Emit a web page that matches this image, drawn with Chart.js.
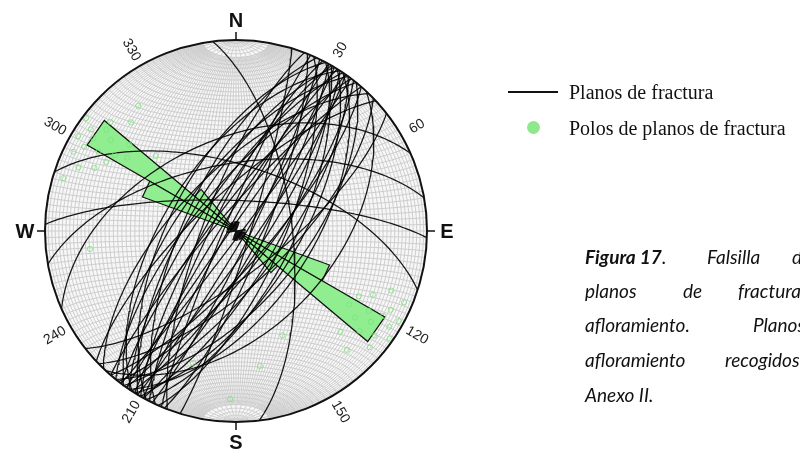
<!DOCTYPE html>
<html>
<head>
<meta charset="utf-8">
<script src="https://cdn.jsdelivr.net/npm/chart.js@4.4.1/dist/chart.umd.min.js"></script>
<style>
  html, body { margin: 0; padding: 0; background: #fff; width: 800px; height: 455px; overflow: hidden; }
  #wrap { position: absolute; left: 0; top: 0; width: 800px; height: 455px; }
  canvas { position: absolute; left: 0; top: 0; }
  .lg { position: absolute; font-family: "Liberation Serif", "Times New Roman", serif; font-size: 20px; color: #111; white-space: nowrap; line-height: 1; }
  .lg-line { position: absolute; height: 2px; background: #111; }
  .lg-dot { position: absolute; border-radius: 50%; background: #8fe88f; }
  .cap { position: absolute; font-family: Lato, "Open Sans", sans-serif; font-style: italic; font-size: 19px; color: #111; white-space: nowrap; line-height: 1; }
  .cap b { font-weight: 700; }
</style>
</head>
<body>
<div id="wrap">
  <canvas id="net" width="800" height="455"></canvas>

  <div class="lg-line" style="left:508px; top:91px; width:50px;"></div>
  <div class="lg" style="left:569px; top:82px;">Planos de fractura</div>
  <div class="lg-dot" style="left:527px; top:121px; width:13px; height:13px;"></div>
  <div class="lg" style="left:569px; top:118px;">Polos de planos de fractura</div>

  <div class="cap" style="left:585px; top:247px;"><b>Figura 17</b>.</div>
  <div class="cap" style="left:707px; top:247px;">Falsilla</div>
  <div class="cap" style="left:792px; top:247px;">de</div>
  <div class="cap" style="left:585px; top:281px;">planos</div>
  <div class="cap" style="left:683px; top:281px;">de</div>
  <div class="cap" style="left:738px; top:281px;">fractura</div>
  <div class="cap" style="left:585px; top:315px;">afloramiento.</div>
  <div class="cap" style="left:753px; top:315px;">Planos</div>
  <div class="cap" style="left:585px; top:350px;">afloramiento</div>
  <div class="cap" style="left:725px; top:350px;">recogidos</div>
  <div class="cap" style="left:585px; top:385px;">Anexo II.</div>
</div>

<script>
// Fracture planes measured in the outcrop: dip direction and dip, in degrees
const dipDirections = [
  112, 114, 116, 118, 119, 291, 293, 295, 297, 298, 299,
  120, 121, 122, 123, 124, 125, 126, 127, 128, 129,
  300, 301, 302, 303, 304, 305, 306, 307, 309,
  131, 133, 136, 311, 314, 317,
  107, 142, 83, 18, 2, 336, 350
];
const dips = [
  78, 70, 84, 66, 80, 76, 85, 68, 80, 62, 87,
  72, 86, 64, 78, 58, 82, 70, 88, 75, 61,
  78, 70, 84, 60, 74, 88, 66, 80, 72,
  76, 48, 68, 82, 65, 74,
  84, 72, 66, 62, 77, 50, 61
];

// Rose diagram: 10° sectors (start azimuth) and number of planes per sector
const roseSectors = [0, 10, 20, 30, 40, 50, 60, 70, 80, 90, 100, 110, 120, 130, 140, 150, 160, 170,
                     180, 190, 200, 210, 220, 230, 240, 250, 260, 270, 280, 290, 300, 310, 320, 330, 340, 350];
const roseCounts  = [1, 1, 0, 0, 0, 0, 0, 0, 1, 0, 1, 11, 19, 6, 1, 1, 0, 1,
                     1, 1, 0, 0, 0, 0, 0, 0, 1, 0, 1, 11, 19, 6, 1, 1, 0, 1];

// Compass labels and azimuth ticks around the primitive circle
const cardinalLabels = ['N', 'E', 'S', 'W'];
const cardinalAzimuths = [0, 90, 180, 270];
const azimuthLabels = [30, 60, 120, 150, 210, 240, 300, 330];

const DEG = Math.PI / 180;
const ROSE_MAX_RADIUS = 0.9;

// Lambert equal-area (Schmidt) projection of a lower-hemisphere unit vector [east, north, down]
function project(v) {
  const k = 1 / Math.sqrt(1 + v[2]);
  return { x: v[0] * k, y: v[1] * k };
}

// Cyclographic trace of a plane
function greatCircle(dipDir, dip) {
  const a = dipDir * DEG, d = dip * DEG;
  const s = [Math.sin(a - Math.PI / 2), Math.cos(a - Math.PI / 2), 0];
  const dv = [Math.sin(a) * Math.cos(d), Math.cos(a) * Math.cos(d), Math.sin(d)];
  const pts = [];
  for (let t = 0; t <= 180; t += 2) {
    const c = Math.cos(t * DEG), sn = Math.sin(t * DEG);
    pts.push(project([s[0] * c + dv[0] * sn, s[1] * c + dv[1] * sn, s[2] * c + dv[2] * sn]));
  }
  return pts;
}

// Pole (normal) of a plane
function poleOf(dipDir, dip) {
  const a = (dipDir + 180) * DEG, d = dip * DEG;
  return project([Math.sin(a) * Math.sin(d), Math.cos(a) * Math.sin(d), Math.cos(d)]);
}

// Closed wedge of one rose sector
function roseWedge(start, count, maxCount) {
  const r = count / maxCount * ROSE_MAX_RADIUS;
  const a1 = start * DEG, a2 = (start + 10) * DEG;
  return [
    { x: 0, y: 0 },
    { x: r * Math.sin(a1), y: r * Math.cos(a1) },
    { x: r * Math.sin(a2), y: r * Math.cos(a2) },
    { x: 0, y: 0 }
  ];
}

const maxCount = Math.max(...roseCounts);
const datasets = [];

// Poles (drawn on top)
datasets.push({
  label: 'Polos de planos de fractura',
  data: dipDirections.map((dd, i) => poleOf(dd, dips[i])),
  showLine: false,
  pointStyle: 'circle',
  pointRadius: 2.6,
  pointBorderWidth: 1,
  pointBorderColor: 'rgba(120,225,120,0.75)',
  pointBackgroundColor: 'rgba(0,0,0,0)',
  order: 0
});

// Fracture planes
dipDirections.forEach((dd, i) => {
  datasets.push({
    label: 'Planos de fractura',
    data: greatCircle(dd, dips[i]),
    showLine: true,
    borderColor: 'rgba(0,0,0,0.9)',
    borderWidth: 1.25,
    pointRadius: 0,
    tension: 0,
    fill: false,
    order: 1
  });
});

// Rose diagram sectors
roseSectors.forEach((start, i) => {
  if (!roseCounts[i]) return;
  datasets.push({
    label: 'Rosa',
    data: roseWedge(start, roseCounts[i], maxCount),
    showLine: true,
    borderColor: '#111',
    borderWidth: 1.2,
    backgroundColor: '#90ee90',
    fill: 'shape',
    pointRadius: 0,
    tension: 0,
    order: 2
  });
});

// Equal-area net: light disc with a 2° graticule
const netGrid = {
  id: 'netGrid',
  beforeDatasetsDraw(chart) {
    const { ctx, scales: { x, y } } = chart;
    const px = p => x.getPixelForValue(p.x), py = p => y.getPixelForValue(p.y);
    const cx = x.getPixelForValue(0), cy = y.getPixelForValue(0);
    const R = x.getPixelForValue(1) - cx;
    ctx.save();
    ctx.beginPath();
    ctx.arc(cx, cy, R, 0, 2 * Math.PI);
    ctx.fillStyle = '#f7f7f7';
    ctx.fill();
    ctx.clip();
    ctx.strokeStyle = '#c9c9c9';
    ctx.lineWidth = 0.9;
    // small circles around the N-S axis
    for (let b = 2; b < 180; b += 2) {
      const cb = Math.cos(b * DEG), sb = Math.sin(b * DEG);
      ctx.beginPath();
      for (let l = -90; l <= 90; l += 2) {
        const p = project([sb * Math.sin(l * DEG), cb, sb * Math.cos(l * DEG)]);
        if (l === -90) ctx.moveTo(px(p), py(p)); else ctx.lineTo(px(p), py(p));
      }
      ctx.stroke();
    }
    // meridians (great circles through N and S)
    for (let l = -88; l <= 88; l += 2) {
      const lim = (l % 10 === 0) ? 90 : 80;
      const sl = Math.sin(l * DEG), cl = Math.cos(l * DEG);
      ctx.beginPath();
      for (let f = -lim; f <= lim; f += 2) {
        const cf = Math.cos(f * DEG), sf = Math.sin(f * DEG);
        const p = project([cf * sl, sf, cf * cl]);
        if (f === -lim) ctx.moveTo(px(p), py(p)); else ctx.lineTo(px(p), py(p));
      }
      ctx.stroke();
    }
    ctx.restore();
  },
  afterDatasetsDraw(chart) {
    const { ctx, scales: { x, y } } = chart;
    const cx = x.getPixelForValue(0), cy = y.getPixelForValue(0);
    const R = x.getPixelForValue(1) - cx;
    ctx.save();
    ctx.beginPath();
    ctx.arc(cx, cy, R, 0, 2 * Math.PI);
    ctx.strokeStyle = '#111';
    ctx.lineWidth = 2;
    ctx.stroke();

    // cardinal ticks and letters
    ctx.fillStyle = '#111';
    ctx.font = 'bold 20px "Liberation Sans", Arial, sans-serif';
    ctx.textAlign = 'center';
    ctx.textBaseline = 'middle';
    cardinalLabels.forEach((lab, i) => {
      const a = cardinalAzimuths[i] * DEG;
      const sx = Math.sin(a), sy = -Math.cos(a);
      ctx.beginPath();
      ctx.moveTo(cx + sx * R, cy + sy * R);
      ctx.lineTo(cx + sx * (R + 8), cy + sy * (R + 8));
      ctx.lineWidth = 1.5;
      ctx.stroke();
      const lr = R + 20;
      ctx.fillText(lab, cx + sx * lr, cy + sy * lr + 1);
    });

    // azimuth numbers, written along the radius
    ctx.font = '14px "Liberation Sans", Arial, sans-serif';
    ctx.fillStyle = '#222';
    azimuthLabels.forEach(az => {
      const a = az * DEG;
      const lr = R + 18;
      const tx = cx + Math.sin(a) * lr, ty = cy - Math.cos(a) * lr;
      let rot = az - 90;
      if (az > 180) rot = az - 270;
      ctx.save();
      ctx.translate(tx, ty);
      ctx.rotate(rot * DEG);
      ctx.fillText(String(az), 0, 0);
      ctx.restore();
    });
    ctx.restore();
  }
};

new Chart(document.getElementById('net'), {
  type: 'scatter',
  data: { datasets },
  options: {
    responsive: false,
    animation: false,
    devicePixelRatio: 1,
    events: [],
    layout: { padding: { left: 45, top: 40, right: 373, bottom: 33 } },
    scales: {
      x: { type: 'linear', min: -1, max: 1, display: false },
      y: { type: 'linear', min: -1, max: 1, display: false }
    },
    plugins: {
      legend: { display: false },
      tooltip: { enabled: false }
    }
  },
  plugins: [netGrid]
});
</script>
</body>
</html>
